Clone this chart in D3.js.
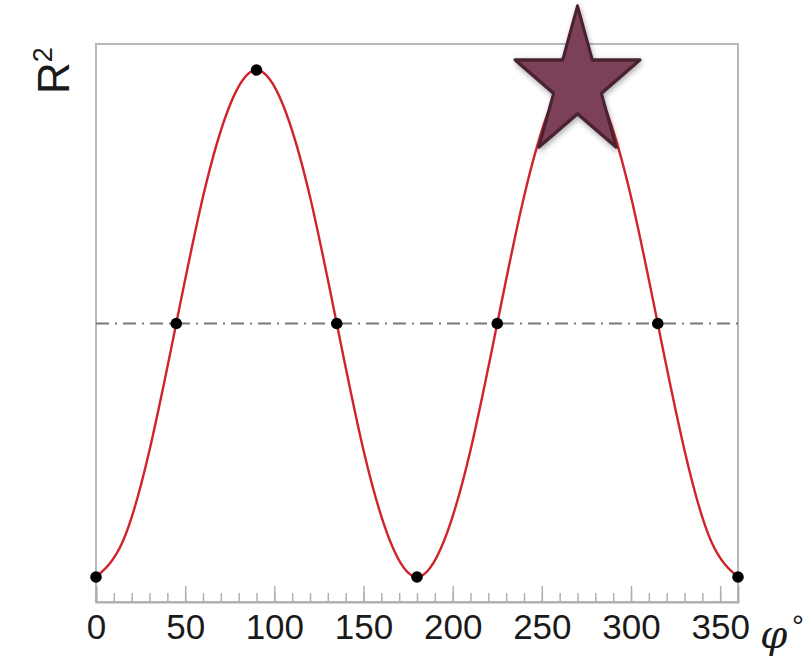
<!DOCTYPE html>
<html>
<head>
<meta charset="utf-8">
<script src="https://cdn.jsdelivr.net/npm/d3@7"></script>
<style>
  body { margin: 0; background: #fff; }
  svg { display: block; }
</style>
</head>
<body>
<svg width="809" height="664"></svg>
<script>
    // curve, every 15 degrees
    const curvePhi = [0, 15, 30, 45, 60, 75, 90, 105, 120, 135, 150, 165, 180,
                      195, 210, 225, 240, 255, 270, 285, 300, 315, 330, 345, 360];
    const curveR2 = [0, 0.07, 0.25, 0.5, 0.75, 0.93, 1, 0.93, 0.75, 0.5, 0.25, 0.07, 0,
                     0.07, 0.25, 0.5, 0.75, 0.93, 1, 0.93, 0.75, 0.5, 0.25, 0.07, 0];

    // black markers
    const dotPhi = [0, 45, 90, 135, 180, 225, 270, 315, 360];
    const dotR2 = [0, 0.5, 1, 0.5, 0, 0.5, 1, 0.5, 0];

    const refLevel = 0.5;
    const majorTicks = [0, 50, 100, 150, 200, 250, 300, 350];
    const minorTicks = d3.range(0, 360, 10);
    const starPhi = 270, starR2 = 1;

    const svg = d3.select("svg"),
          margin = {top: 44, right: 71, bottom: 62, left: 96},
          width = +svg.attr("width") - margin.left - margin.right,
          height = +svg.attr("height") - margin.top - margin.bottom;

    const g = svg.append("g").attr("transform", `translate(${margin.left},${margin.top})`);

    const x = d3.scaleLinear().domain([0, 360]).range([0, width]);
    const y = d3.scaleLinear().domain([-0.0493, 1.0513]).range([height, 0]);

    // frame
    g.append("rect")
      .attr("x", 0).attr("y", 0)
      .attr("width", width).attr("height", height)
      .attr("fill", "none")
      .attr("stroke", "#b8b8b8")
      .attr("stroke-width", 2);

    // minor ticks
    g.append("g")
      .attr("transform", `translate(0,${height})`)
      .call(d3.axisBottom(x).tickValues(minorTicks).tickSize(-9).tickFormat(""))
      .call(a => a.select(".domain").remove())
      .call(a => a.selectAll("line").attr("stroke", "#b0b0b0").attr("stroke-width", 1.5));

    // major ticks + labels
    const xAxis = g.append("g")
      .attr("transform", `translate(0,${height})`)
      .call(d3.axisBottom(x).tickValues(majorTicks).tickSize(-16).tickPadding(12).tickFormat(d3.format("d")));
    xAxis.select(".domain").attr("stroke", "#b0b0b0").attr("stroke-width", 2);
    xAxis.selectAll("line").attr("stroke", "#b0b0b0").attr("stroke-width", 1.5);
    xAxis.selectAll("text")
      .attr("fill", "#1a1a1a")
      .style("font-family", "'Liberation Sans', Arial, sans-serif")
      .style("font-size", "35px");

    // dash-dot reference line
    g.append("line")
      .attr("x1", 0).attr("x2", width)
      .attr("y1", y(refLevel)).attr("y2", y(refLevel))
      .attr("stroke", "#777")
      .attr("stroke-width", 2)
      .attr("stroke-dasharray", "13,6,2,6");

    const pts = curvePhi.map((p, i) => ({phi: p, r2: curveR2[i]}));
    const line = d3.line()
      .x(d => x(d.phi))
      .y(d => y(d.r2))
      .curve(d3.curveNatural);

    g.append("path")
      .datum(pts)
      .attr("fill", "none")
      .attr("stroke", "#d0232b")
      .attr("stroke-width", 2.4)
      .attr("d", line);

    g.selectAll(".dot")
      .data(dotPhi.map((p, i) => ({phi: p, r2: dotR2[i]})))
      .enter().append("circle")
      .attr("class", "dot")
      .attr("cx", d => x(d.phi))
      .attr("cy", d => y(d.r2))
      .attr("r", 5.8)
      .attr("fill", "#000");

    // star over the second peak
    const defs = svg.append("defs");
    const f = defs.append("filter").attr("id", "shadow")
      .attr("x", "-30%").attr("y", "-30%").attr("width", "160%").attr("height", "160%");
    f.append("feDropShadow")
      .attr("dx", 1).attr("dy", 2).attr("stdDeviation", 2.5)
      .attr("flood-color", "#000").attr("flood-opacity", 0.35);

    svg.append("path")
      .attr("d", d3.symbol().type(d3.symbolStar).size(4850)())
      .attr("transform", `translate(${margin.left + x(starPhi)},${margin.top + y(starR2) + 14}) scale(1,1.186)`)
      .attr("fill", "#7b4059")
      .attr("stroke", "#4a2232")
      .attr("stroke-width", 3)
      .attr("stroke-linejoin", "round")
      .attr("filter", "url(#shadow)");

    // axis titles
    const yt = svg.append("text")
      .attr("transform", "translate(69,94) rotate(-90)")
      .attr("fill", "#1a1a1a")
      .style("font-family", "'Liberation Sans', Arial, sans-serif")
      .style("font-size", "44px");
    yt.append("tspan").text("R");
    yt.append("tspan").attr("dy", -17).style("font-size", "27px").text("2");

    svg.append("text")
      .attr("x", 760).attr("y", 648)
      .attr("fill", "#1a1a1a")
      .style("font-family", "'DejaVu Serif', 'Liberation Serif', serif")
      .style("font-style", "italic")
      .style("font-size", "39px")
      .text("φ");

    svg.append("text")
      .attr("x", 792).attr("y", 636)
      .attr("fill", "#1a1a1a")
      .style("font-family", "'Liberation Sans', Arial, sans-serif")
      .style("font-size", "30px")
      .text("°");
</script>
</body>
</html>
